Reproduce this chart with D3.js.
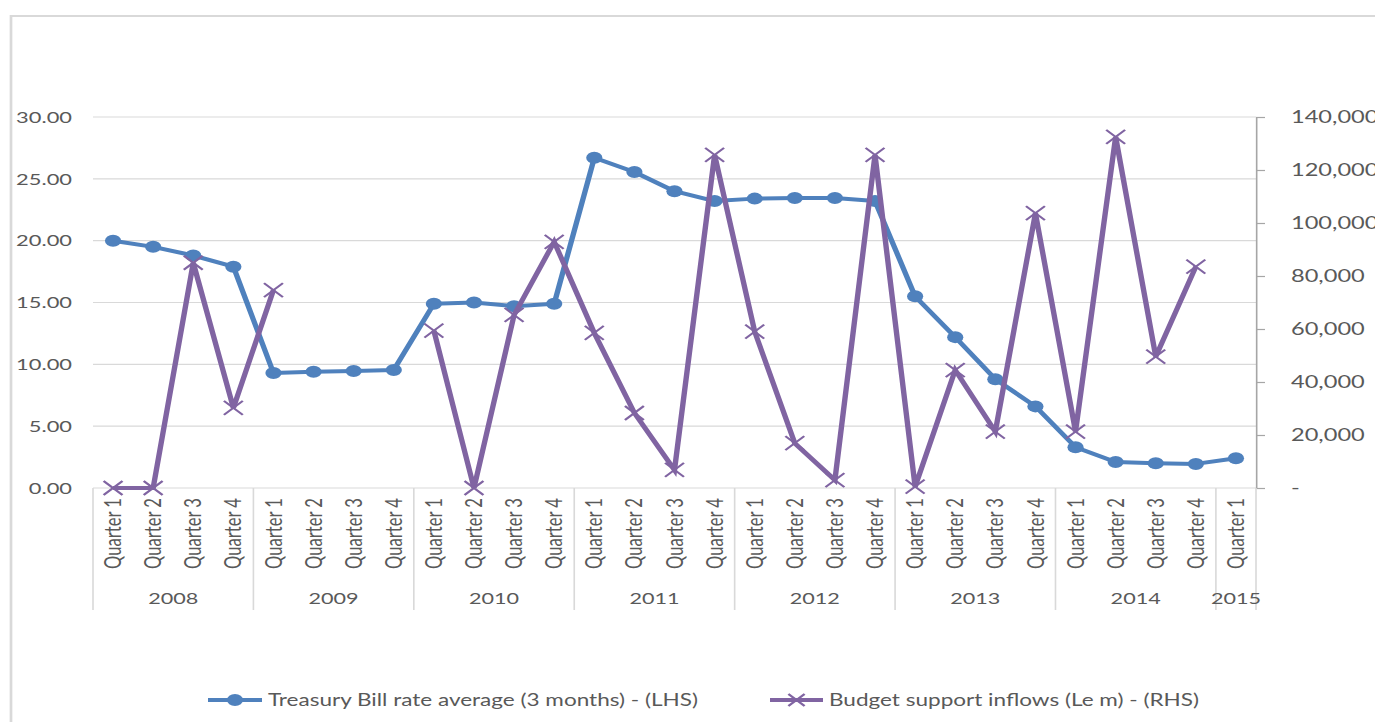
<!DOCTYPE html>
<html>
<head>
<meta charset="utf-8">
<script src="https://cdn.jsdelivr.net/npm/d3@7/dist/d3.min.js"></script>
<style>
  html, body { margin: 0; padding: 0; background: #fff; }
  svg { display: block; }
  text { font-family: Lato, "Open Sans", sans-serif; fill: #595959; }
</style>
</head>
<body>
<div id="chart"></div>
<script>
// Quarterly periods, 2008 Q1 – 2015 Q1
const years = ["2008", "2009", "2010", "2011", "2012", "2013", "2014", "2015"];
const quartersPerYear = [4, 4, 4, 4, 4, 4, 4, 1];
const quarterLabels = ["Quarter 1", "Quarter 2", "Quarter 3", "Quarter 4"];

// Treasury Bill rate average (3 months), % – left axis
const tbillRate = [
  20.0, 19.5, 18.8, 17.9,
  9.3, 9.4, 9.46, 9.55,
  14.9, 15.0, 14.7, 14.9,
  26.7, 25.55, 24.0, 23.2,
  23.4, 23.45, 23.45, 23.2,
  15.5, 12.2, 8.8, 6.6,
  3.3, 2.1, 2.0, 1.95,
  2.4
];

// Budget support inflows (Le m) – right axis; null = no inflow recorded
const budgetSupport = [
  0, 0, 85000, 30200,
  74700, null, null, null,
  59400, 0, 65300, 92900,
  58500, 28300, 6800, 125700,
  59000, 16900, 3000, 125700,
  500, 44500, 21300, 103700,
  21300, 132500, 49600, 83500,
  null
];

const leftTicks = [0, 5, 10, 15, 20, 25, 30];
const rightTicks = [0, 20000, 40000, 60000, 80000, 100000, 120000, 140000];

const seriesNames = [
  "Treasury Bill rate average (3 months) - (LHS)",
  "Budget support inflows (Le m) - (RHS)"
];
const colors = ["#4f81bd", "#8064a2"];

// The drawing is laid out in a narrower space and stretched to the window width
const outW = 1375, outH = 722;
const SX = 1.35;
const W = outW / SX, H = outH;

const periods = [];
years.forEach((y, yi) => {
  for (let q = 0; q < quartersPerYear[yi]; q++) {
    periods.push({ id: y + "-Q" + (q + 1), year: y, quarter: quarterLabels[q] });
  }
});

const plotLeft = 93 / SX, plotRight = 1256 / SX, plotTop = 117, plotBottom = 488;

const svg = d3.select("#chart").append("svg")
  .attr("width", outW).attr("height", outH)
  .attr("viewBox", `0 0 ${W} ${H}`)
  .attr("preserveAspectRatio", "none");

// chart frame
svg.append("rect")
  .attr("x", 11 / SX).attr("y", 16)
  .attr("width", W + 10).attr("height", H + 10)
  .attr("fill", "none").attr("stroke", "#d9d9d9").attr("stroke-width", 2);

const x = d3.scalePoint().domain(periods.map(d => d.id)).range([plotLeft, plotRight]).padding(0.5);
const step = x.step();
const yL = d3.scaleLinear().domain([0, 30]).range([plotBottom, plotTop]);
const yR = d3.scaleLinear().domain([0, 140000]).range([plotBottom, plotTop]);

// horizontal gridlines
svg.append("g").selectAll("line").data(leftTicks).join("line")
  .attr("x1", plotLeft).attr("x2", plotRight)
  .attr("y1", d => yL(d)).attr("y2", d => yL(d))
  .attr("stroke", "#d9d9d9").attr("stroke-width", 1.2);

// left axis labels
const leftAxis = d3.axisLeft(yL).tickValues(leftTicks).tickFormat(d3.format(".2f")).tickSize(0).tickPadding(0);
const gL = svg.append("g").attr("transform", `translate(${72 / SX},0)`).call(leftAxis);
gL.select(".domain").remove();
gL.selectAll("text").attr("font-size", 16.2).attr("fill", "#595959")
  .style("font-family", "Lato, 'Open Sans', sans-serif");

// right axis
const fmtR = d => d === 0 ? "-" : d3.format(",")(d);
const rightAxis = d3.axisRight(yR).tickValues(rightTicks).tickFormat(fmtR).tickSizeInner(9 / SX).tickSizeOuter(0).tickPadding(26 / SX);
const gR = svg.append("g").attr("transform", `translate(${plotRight},0)`).call(rightAxis);
gR.select(".domain").attr("stroke", "#a6a6a6").attr("stroke-width", 1.2);
gR.selectAll(".tick line").attr("stroke", "#a6a6a6").attr("stroke-width", 1.2);
gR.selectAll("text").attr("font-size", 17.5).attr("fill", "#595959")
  .style("font-family", "Lato, 'Open Sans', sans-serif");

// category separators between years
const boundaries = [plotLeft];
let acc = 0;
quartersPerYear.forEach(n => { acc += n; boundaries.push(plotLeft + acc * step); });
svg.append("g").selectAll("line").data(boundaries).join("line")
  .attr("x1", d => d).attr("x2", d => d)
  .attr("y1", plotBottom).attr("y2", 610)
  .attr("stroke", "#d9d9d9").attr("stroke-width", 1.2);

// quarter labels (rotated)
svg.append("g").selectAll("text").data(periods).join("text")
  .attr("transform", d => `translate(${x(d.id)},498) rotate(-90)`)
  .attr("text-anchor", "end").attr("dy", "0.36em")
  .attr("font-size", 16.6).text(d => d.quarter);

// year labels
let start = 0;
const yearPos = years.map((y, i) => {
  const s = start; start += quartersPerYear[i];
  return { year: y, cx: plotLeft + (s + quartersPerYear[i] / 2) * step };
});
svg.append("g").selectAll("text").data(yearPos).join("text")
  .attr("x", d => d.cx).attr("y", 604)
  .attr("text-anchor", "middle").attr("font-size", 16)
  .text(d => d.year);

// Treasury bill rate line with circular markers
const lineL = d3.line().x((d, i) => x(periods[i].id)).y(d => yL(d));
svg.append("path").datum(tbillRate)
  .attr("d", lineL).attr("fill", "none")
  .attr("stroke", colors[0]).attr("stroke-width", 4).attr("stroke-linejoin", "round");
svg.append("g").selectAll("circle").data(tbillRate).join("circle")
  .attr("cx", (d, i) => x(periods[i].id)).attr("cy", d => yL(d))
  .attr("r", 6).attr("fill", colors[0]);

// Budget support line with cross markers
const lineR = d3.line().defined(d => d !== null).x((d, i) => x(periods[i].id)).y(d => yR(d));
svg.append("path").datum(budgetSupport)
  .attr("d", lineR).attr("fill", "none")
  .attr("stroke", colors[1]).attr("stroke-width", 4).attr("stroke-linejoin", "miter");
const cross = s => `M${-s},${-s}L${s},${s}M${-s},${s}L${s},${-s}`;
svg.append("g").selectAll("path")
  .data(budgetSupport.map((v, i) => ({ v, i })).filter(d => d.v !== null))
  .join("path")
  .attr("transform", d => `translate(${x(periods[d.i].id)},${yR(d.v)})`)
  .attr("d", cross(7)).attr("stroke", colors[1]).attr("stroke-width", 1.8).attr("fill", "none");

// legend
const legend = [
  { x0: 208 / SX, x1: 262 / SX, tx: 268 / SX, kind: "circle" },
  { x0: 770 / SX, x1: 823 / SX, tx: 829 / SX, kind: "cross" }
];
const ly = 700;
legend.forEach((l, i) => {
  const g = svg.append("g");
  g.append("line").attr("x1", l.x0).attr("x2", l.x1).attr("y1", ly).attr("y2", ly)
    .attr("stroke", colors[i]).attr("stroke-width", 4);
  const cx = (l.x0 + l.x1) / 2;
  if (l.kind === "circle") {
    g.append("circle").attr("cx", cx).attr("cy", ly).attr("r", 6).attr("fill", colors[i]);
  } else {
    g.append("path").attr("transform", `translate(${cx},${ly})`).attr("d", cross(6))
      .attr("stroke", colors[i]).attr("stroke-width", 1.8);
  }
  g.append("text").attr("x", l.tx).attr("y", ly).attr("dy", "0.35em")
    .attr("font-size", 16.7).text(seriesNames[i]);
});
</script>
</body>
</html>
